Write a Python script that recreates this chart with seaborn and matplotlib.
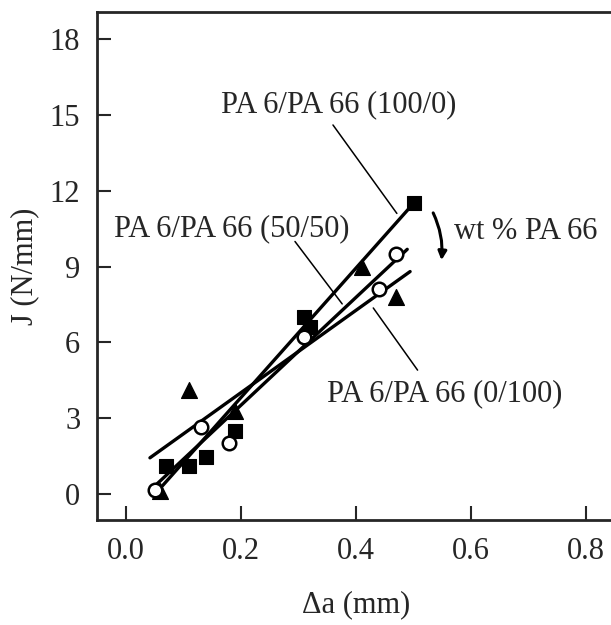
import seaborn as sns
import matplotlib.pyplot as plt
import pandas as pd
from matplotlib.patches import FancyArrowPatch

# data
sq_x = [0.07, 0.11, 0.14, 0.19, 0.31, 0.32, 0.50]
sq_y = [1.1, 1.1, 1.45, 2.5, 7.0, 6.6, 11.5]
ci_x = [0.05, 0.13, 0.18, 0.31, 0.44, 0.47]
ci_y = [0.15, 2.65, 2.0, 6.2, 8.1, 9.5]
tr_x = [0.06, 0.11, 0.19, 0.41, 0.47]
tr_y = [0.1, 4.1, 3.3, 9.0, 7.8]

# fitted lines (end points)
fit_sq_x = [0.055, 0.50]
fit_sq_y = [0.1, 11.5]
fit_ci_x = [0.045, 0.489]
fit_ci_y = [0.2, 9.68]
fit_tr_x = [0.042, 0.494]
fit_tr_y = [1.43, 8.8]

labels = ['PA 6/PA 66 (100/0)', 'PA 6/PA 66 (50/50)', 'PA 6/PA 66 (0/100)']
x_ticks = [0.0, 0.2, 0.4, 0.6, 0.8]
y_ticks = [0, 3, 6, 9, 12, 15, 18]

sns.set_style('ticks')
plt.rcParams['font.family'] = ['Liberation Serif', 'DejaVu Serif']

fig = plt.figure(figsize=(6.11, 6.25), dpi=100)
ax = fig.add_axes([97 / 611, 105 / 625, 518 / 611, 508 / 625])

fits = pd.DataFrame({
    'x': fit_sq_x + fit_ci_x + fit_tr_x,
    'y': fit_sq_y + fit_ci_y + fit_tr_y,
    'serie': ['sq'] * 2 + ['ci'] * 2 + ['tr'] * 2,
})
sns.lineplot(data=fits, x='x', y='y', units='serie', estimator=None,
             color='black', linewidth=2.4, ax=ax, legend=False, zorder=2)

sns.scatterplot(x=sq_x, y=sq_y, marker='s', s=95, color='black',
                edgecolor='black', ax=ax, zorder=3)
sns.scatterplot(x=tr_x, y=tr_y, marker='^', s=130, color='black',
                edgecolor='black', ax=ax, zorder=3)
sns.scatterplot(x=ci_x, y=ci_y, marker='o', s=95, facecolor='white',
                edgecolor='black', linewidth=1.8, ax=ax, zorder=4)

# labels with leader lines
fs = 22
ax.text(0.37, 15.4, labels[0], fontsize=fs, ha='center', va='center')
ax.plot([0.36, 0.471], [14.6, 11.1], color='black', lw=1.1)
ax.text(0.184, 10.5, labels[1], fontsize=fs, ha='center', va='center')
ax.plot([0.294, 0.376], [9.99, 7.52], color='black', lw=1.1)
ax.text(0.554, 3.97, labels[2], fontsize=fs, ha='center', va='center')
ax.plot([0.43, 0.507], [7.36, 4.9], color='black', lw=1.1)

ax.text(0.57, 10.37, 'wt % PA 66', fontsize=fs, ha='left', va='center')
arrow = FancyArrowPatch((0.532, 11.22), (0.548, 9.14),
                        connectionstyle='arc3,rad=-0.15',
                        arrowstyle='-|>,head_length=5,head_width=2.5',
                        color='black', lw=2.2)
ax.add_patch(arrow)

ax.set_xlim(-0.05, 0.85)
ax.set_ylim(-1.03, 19.07)
ax.set_xticks(x_ticks)
ax.set_xticklabels([f'{v:.1f}' for v in x_ticks])
ax.set_yticks(y_ticks)
ax.set_yticklabels([str(v) for v in y_ticks])
ax.tick_params(direction='in', length=10, width=1.5, labelsize=fs, pad=12)
ax.set_xlabel('Δa (mm)', fontsize=fs, labelpad=18)
ax.set_ylabel('J (N/mm)', fontsize=fs, labelpad=8)
for sp in ax.spines.values():
    sp.set_linewidth(2)

fig.savefig('out.png', dpi=100)
